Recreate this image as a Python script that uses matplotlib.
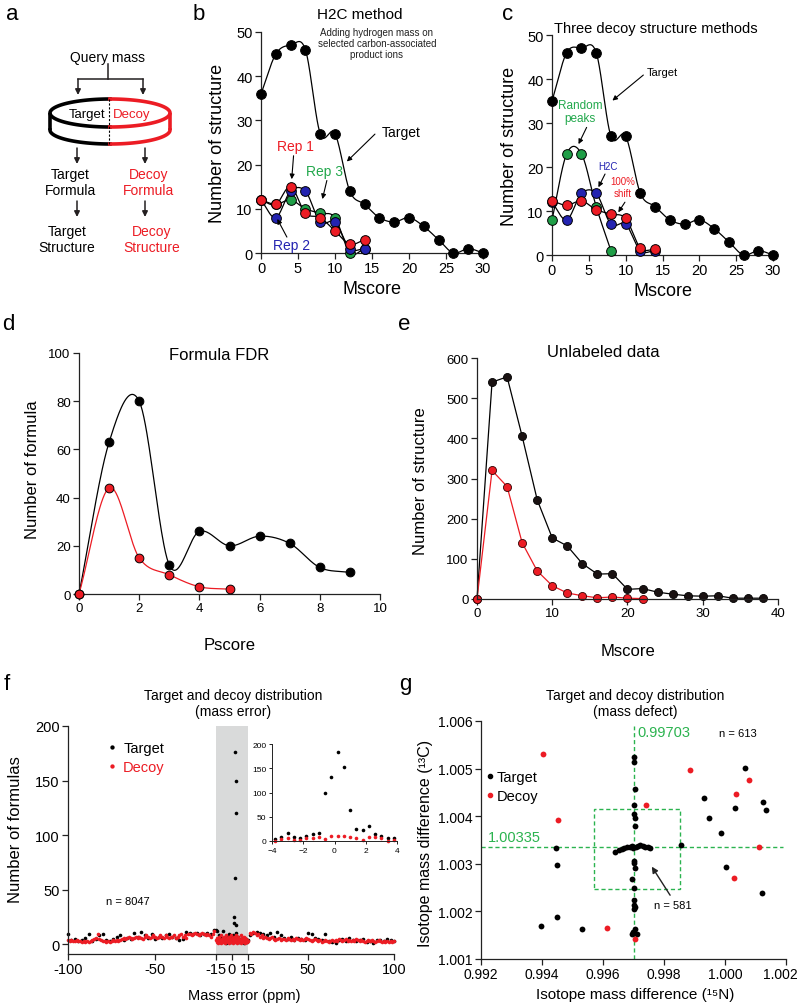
import numpy as np
import matplotlib
matplotlib.use('Agg')
import matplotlib.pyplot as plt
from matplotlib.patches import Rectangle
from matplotlib.ticker import FormatStrFormatter
from matplotlib.lines import Line2D
from matplotlib.transforms import ScaledTranslation

plt.rcParams['font.family'] = ['Liberation Sans', 'DejaVu Sans']

RED = '#ec1c24'
BLUE = '#2323b0'
GREEN = '#1f9e47'
TGREEN = '#22a84c'
DGREEN = '#2bb34f'

# ---- panel b : H2C method
mscore = [0, 2, 4, 6, 8, 10, 12, 14, 16, 18, 20, 22, 24, 26, 28, 30]
target_b = [36, 45, 47, 46, 27, 27, 14, 11, 8, 7, 8, 6, 3, 0, 1, 0]
rep_x = [0, 2, 4, 6, 8, 10, 12, 14]
rep1 = [12, 11, 15, 9, 8, 5, 2, 3]
rep2 = [12, 8, 14, 14, 7, 7, 1, 1]
rep3 = [12, 11, 12, 10, 9, 8, 0, 1]

# ---- panel c : three decoy methods
target_c = [35, 46, 47, 46, 27, 27, 14, 11, 8, 7, 8, 6, 3, 0, 1, 0]
random_x = [0, 2, 4, 6, 8]
random_c = [8, 23, 23, 11, 1]
h2c_c = [12, 8, 14, 14, 7, 7, 1, 1]
shift_c = [12.3, 11.3, 12.3, 10.3, 9.3, 8.3, 1.6, 1.3]

# ---- panel d : formula FDR
pscore = [0, 1, 2, 3, 4, 5, 6, 7, 8, 9]
target_d = [0, 63, 80, 12, 26, 20, 24, 21, 11, 9]
decoy_d = [0, 44, 15, 8, 3, 2]

# ---- panel e : unlabeled data
mscore_e = [0, 2, 4, 6, 8, 10, 12, 14, 16, 18, 20, 22, 24, 26, 28, 30, 32, 34, 36, 38]
target_e = [0, 540, 553, 405, 247, 152, 132, 88, 62, 63, 24, 26, 17, 12, 8, 7, 8, 2, 2, 2]
decoy_e = [0, 320, 280, 140, 70, 33, 15, 8, 3, 5, 2, 1]

# ---- panel f : mass error distribution
decoy_left = [4, 3, 4, 3, 3, 4, 3, 3, 2, 3,
              2, 3, 2, 3, 4, 5, 6, 9, 5, 4,
              3, 3, 2, 3, 2, 3, 4, 3, 4, 3,
              4, 5, 6, 5, 6, 7, 6, 5, 6, 7,
              6, 7, 6, 5, 7, 8, 7, 6, 7, 8,
              7, 6, 7, 8, 7, 6, 8, 7, 6, 7,
              7, 8, 6, 7, 8, 9, 7, 8, 6, 9,
              9, 8, 9, 10, 9, 8, 9, 10, 9, 8,
              9, 8, 7, 9, 12]
decoy_right = [10, 9, 11, 10, 8, 9, 7, 8, 6, 7,
               6, 5, 6, 7, 5, 4, 5, 6, 4, 5,
               5, 4, 6, 5, 4, 5, 4, 6, 5, 4,
               5, 4, 5, 6, 5, 4, 3, 4, 5, 4,
               3, 4, 2, 3, 4, 3, 2, 3, 4, 3,
               4, 3, 5, 4, 3, 4, 5, 3, 4, 3,
               4, 3, 5, 4, 3, 4, 3, 2, 3, 4,
               3, 4, 3, 2, 3, 4, 3, 2, 3, 2,
               3, 2, 3, 2, 3]
target_left = [9, 4, 5, 3, 4, 6, 9, 3, 5, 8, 9, 4, 3, 5, 7, 8, 4, 6, 5, 10,
               7, 11, 8, 6, 9, 5, 7, 6, 8, 9, 7, 6, 4, 5, 11, 10, 9, 10, 8, 9,
               10, 9, 13]
target_right = [8, 10, 11, 10, 9, 8, 10, 7, 11, 8, 6, 5, 7, 4, 6, 5, 4, 10, 9, 6,
                5, 4, 9, 3, 2, 1, 4, 5, 3, 6, 4, 3, 4, 5, 2, 3, 1, 4, 4, 3,
                5, 4, 3]
decoy_band = [4, 2, 6, 1, 5, 3, 7, 2, 4, 8, 1, 5, 3, 6, 2, 7, 4, 1, 5, 8,
              3, 6, 2, 4, 7, 1, 5, 3, 8, 2, 6, 4, 1, 7, 3, 5, 2, 8, 4, 6,
              1, 3, 7, 5, 2, 4, 8, 1, 6, 3, 5, 2, 7, 4, 1, 6, 3, 5, 2, 4, 3]
target_band = [13, 12, 4, 8, 2, 6, 3, 12, 5, 1, 7, 3, 9, 4, 2, 6, 8, 5, 4, 10,
               3, 7, 2, 5, 4, 6, 1, 3, 5, 2, 4]
peak_x = [2.9, 3.3, 3.5, 2.5, 1.7, 2.0, 3.8]
peak_y = [176, 150, 120, 61, 25, 19, 18]
inset_x = [-3.8, -3.4, -3.0, -2.6, -2.2, -1.8, -1.4, -1.0, -0.6, -0.2,
           0.2, 0.6, 1.0, 1.4, 1.8, 2.2, 2.6, 3.0, 3.4, 3.8]
inset_target = [5, 8, 17, 8, 7, 11, 14, 16, 99, 132, 184, 152, 64, 24, 22, 31, 15, 10, 7, 7]
inset_decoy = [1, 4, 6, 3, 3, 6, 6, 8, 4, 10, 10, 10, 8, 6, 3, 8, 9, 6, 1, 3]

# ---- panel g : mass defect
g_target_x = [0.99397, 0.99448, 0.99530, 0.99445, 0.99448, 0.99930, 0.99949, 0.99988,
              1.00064, 1.00032, 1.00002, 1.00124, 1.00133, 1.00121, 0.99856,
              0.99703, 0.99703, 0.99705, 0.99701, 0.99703, 0.99706, 0.99704, 0.99703,
              0.99703, 0.99704, 0.99694, 0.99703, 0.99702, 0.99703, 0.99706, 0.99702,
              0.99705, 0.99700, 0.99694, 0.99710,
              0.99640, 0.99651, 0.99662, 0.99669, 0.99678, 0.99687, 0.99695, 0.99700,
              0.99708, 0.99714, 0.99722, 0.99731, 0.99739, 0.99747, 0.99755]
g_target_y = [1.00169, 1.00189, 1.00162, 1.00334, 1.00297, 1.00439, 1.00397, 1.00365,
              1.00501, 1.00417, 1.00294, 1.00429, 1.00413, 1.00238, 1.00340,
              1.00525, 1.00514, 1.00457, 1.00424, 1.00404, 1.00396, 1.00380, 1.00306,
              1.00301, 1.00292, 1.00268, 1.00250, 1.00224, 1.00213, 1.00210, 1.00205,
              1.00163, 1.00156, 1.00152, 1.00152,
              1.00324, 1.00329, 1.00331, 1.00334, 1.00336, 1.00335, 1.00338, 1.00333,
              1.00336, 1.00338, 1.00340, 1.00338, 1.00336, 1.00335, 1.00334]
g_decoy_x = [0.99403, 0.99453, 0.99612, 0.99705, 0.99741, 0.99884, 1.00035, 1.00079, 1.00028, 1.00113]
g_decoy_y = [1.00531, 1.00392, 1.00166, 1.00142, 1.00423, 1.00498, 1.00447, 1.00477, 1.00271, 1.00335]

W, H = 800, 1004
fig = plt.figure(figsize=(W / 100, H / 100), dpi=100)


def box(l, t, r, b):
    return fig.add_axes([l / W, 1 - b / H, (r - l) / W, (b - t) / H])


def style(ax, fs=10.5):
    for s in ['top', 'right']:
        ax.spines[s].set_visible(False)
    for s in ['left', 'bottom']:
        ax.spines[s].set_linewidth(0.9)
        ax.spines[s].set_color('#222222')
    ax.tick_params(direction='out', length=4, width=0.9, labelsize=fs, pad=2, color='#222222')
    ax.set_facecolor('none')


def labels(ax, bx, xl, yl, xc, yc, fs=12):
    l, t, r, b = bx
    ax.set_xlabel(xl, fontsize=fs, va='center')
    ax.xaxis.set_label_coords((xc[0] - l) / (r - l), (b - xc[1]) / (b - t))
    ax.set_ylabel(yl, fontsize=fs, va='center')
    ax.yaxis.set_label_coords((yc[0] - l) / (r - l), (b - yc[1]) / (b - t))


def smooth(x, y, n=40):
    # piecewise cubic Hermite with central-difference tangents
    x = np.asarray(x, float)
    y = np.asarray(y, float)
    m = np.gradient(y, x)
    t = np.linspace(0, 1, n)
    h00 = 2 * t**3 - 3 * t**2 + 1
    h10 = t**3 - 2 * t**2 + t
    h01 = -2 * t**3 + 3 * t**2
    h11 = t**3 - t**2
    xs, ys = [], []
    for i in range(len(x) - 1):
        h = x[i + 1] - x[i]
        xs.append(x[i] + t * h)
        ys.append(h00 * y[i] + h10 * h * m[i] + h01 * y[i + 1] + h11 * h * m[i + 1])
    return np.concatenate(xs), np.concatenate(ys)


def curve(ax, x, y, fc, ms=7, lw=0.9):
    sx, sy = smooth(x, y)
    ax.plot(sx, sy, color='black', lw=lw, clip_on=False, zorder=2)
    ax.plot(x, y, 'o', ms=ms, mfc=fc, mec='black', mew=0.7, clip_on=False, zorder=3)


def note(ax, s, xy, xytext, color, fs, arrow_from=None):
    ax.text(xytext[0], xytext[1], s, color=color, fontsize=fs, ha='center', va='center')
    if arrow_from is not None:
        ax.annotate('', xy=xy, xytext=arrow_from,
                    arrowprops=dict(arrowstyle='-|>', color='black', lw=0.8,
                                    mutation_scale=7, shrinkA=0, shrinkB=0))


# ---------------- panel b
bb = (261, 33, 483, 254)
ax = box(*bb)
style(ax)
curve(ax, mscore, target_b, 'black')
curve(ax, rep_x, rep3, GREEN)
curve(ax, rep_x, rep2, BLUE)
curve(ax, rep_x, rep1, RED)
ax.set_xlim(0, 30)
ax.set_ylim(0, 50)
ax.set_xticks(range(0, 31, 5))
ax.set_yticks(range(0, 51, 10))
labels(ax, bb, 'Mscore', 'Number of structure', (372, 289), (218, 143), fs=13)
note(ax, 'Target', (11.6, 20.7), (18.9, 27.4), 'black', 10, (15.4, 26.9))
note(ax, 'Rep 1', (4.15, 16.7), (4.6, 24.3), RED, 10, (4.4, 22.0))
note(ax, 'Rep 3', (8.3, 12.2), (8.6, 18.6), TGREEN, 10, (8.9, 16.4))
note(ax, 'Rep 2', (2.2, 7.7), (4.1, 1.8), BLUE, 10, (3.5, 3.6))

# ---------------- panel c
cb = (552, 36, 773, 256)
ax = box(*cb)
style(ax)
curve(ax, mscore, target_c, 'black')
curve(ax, random_x, random_c, GREEN)
curve(ax, rep_x, h2c_c, BLUE)
curve(ax, rep_x, shift_c, RED)
ax.set_xlim(0, 30)
ax.set_ylim(0, 50)
ax.set_xticks(range(0, 31, 5))
ax.set_yticks(range(0, 51, 10))
labels(ax, cb, 'Mscore', 'Number of structure', (663, 292), (510, 146), fs=13)
note(ax, 'Target', (8.2, 35.1), (15.0, 41.7), 'black', 8, (12.4, 40.9))
note(ax, 'Random\npeaks', (3.6, 25.2), (3.8, 32.6), TGREEN, 8.5, (4.7, 29.0))
note(ax, 'H2C', (6.3, 15.4), (7.6, 20.3), BLUE, 7, (7.2, 18.4))
note(ax, '100%\nshift', (9.0, 9.7), (9.6, 15.4), RED, 7, (9.9, 12.0))

# ---------------- panel d
db = (79, 354, 380, 595)
ax = box(*db)
style(ax, fs=9.5)
curve(ax, pscore, target_d, 'black', ms=6.3)
sx, sy = smooth(pscore[:len(decoy_d)], decoy_d)
ax.plot(sx, sy, color=RED, lw=0.9, clip_on=False, zorder=2)
ax.plot(pscore[:len(decoy_d)], decoy_d, 'o', ms=6.3, mfc=RED, mec='black', mew=0.7,
        clip_on=False, zorder=3)
ax.set_xlim(0, 10)
ax.set_ylim(0, 100)
ax.set_xticks(range(0, 11, 2))
ax.set_yticks(range(0, 101, 20))
labels(ax, db, 'Pscore', 'Number of formula', (230, 646), (33, 470))

# ---------------- panel e
eb = (477, 359, 778, 600)
ax = box(*eb)
style(ax, fs=9.5)
ax.plot(mscore_e, target_e, '-o', color='black', lw=0.9, ms=5.8, mfc='#1a1212',
        mec='black', mew=0.6, clip_on=False)
ax.plot(mscore_e[:len(decoy_e)], decoy_e, '-o', color=RED, lw=0.9, ms=5.8, mfc=RED,
        mec='#330000', mew=0.6, clip_on=False)
ax.set_xlim(0, 40)
ax.set_ylim(0, 600)
ax.set_xticks(range(0, 41, 10))
ax.set_yticks(range(0, 601, 100))
labels(ax, eb, 'Mscore', 'Number of structure', (628, 651), (421, 481))

# ---------------- panel f
fb = (68, 727, 394, 955)
ax = box(*fb)
style(ax, fs=10.5)
brk = [-100, -15, 15, 100]
pos = [0, 148, 180, 326]
ax.set_xscale('function', functions=(lambda v: np.interp(v, brk, pos),
                                     lambda p: np.interp(p, pos, brk)))
ax.axvspan(-15, 15, color='#d9dada', lw=0, zorder=0)
dot = dict(ls='none', marker='o', ms=2.6, mew=0, clip_on=False)
ax.plot(np.arange(-100, -15, 2), target_left, color='black', label='Target', **dot)
ax.plot(np.arange(16, 101, 2), target_right, color='black', **dot)
ax.plot(np.arange(-15, 16, 1), target_band, color='black', **dot)
ax.plot(peak_x, peak_y, color='black', **dot)
ax.plot(np.arange(-100, -15), decoy_left, color=RED, label='Decoy', **dot)
ax.plot(np.arange(16, 101), decoy_right, color=RED, **dot)
ax.plot(np.arange(-15, 15.5, 0.5), decoy_band, color=RED, **dot)
ax.set_xlim(-100, 100)
ax.set_ylim(-9, 200)
ax.set_xticks([-100, -50, -15, 0, 15, 50, 100])
ax.set_xticklabels(['-100', '-50', '-15', '0', '15', '50', '100'])
ax.minorticks_off()
ax.set_yticks(range(0, 201, 50))
labels(ax, fb, 'Mass error (ppm)', 'Number of formulas', (244, 996), (16, 830), fs=12)
ax.xaxis.label.set_fontsize(10.5)
leg = ax.legend(loc='upper left', bbox_to_anchor=(0.08, 0.99), frameon=False, fontsize=10.5,
                handlelength=0.6, handletextpad=0.5, markerscale=1.2, labelspacing=0.3)
leg.get_texts()[1].set_color(RED)
ax.text(-78, 40, 'n = 8047', fontsize=8, ha='left', va='center')

axi = box(272, 745, 397, 842)
style(axi, fs=6)
axi.tick_params(length=2.5, width=0.7, pad=1.5)
for s in ['left', 'bottom']:
    axi.spines[s].set_linewidth(0.7)
axi.plot(inset_x, inset_target, color='black', **dot)
axi.plot(inset_x, inset_decoy, color=RED, **dot)
axi.set_xlim(-4, 4)
axi.set_ylim(0, 200)
axi.set_xticks([-4, -2, 0, 2, 4])
axi.set_yticks(range(0, 201, 50))

# ---------------- panel g
gb = (481, 722, 786, 960)
ax = box(*gb)
style(ax, fs=10)
ax.axhline(1.00335, xmax=0.99, color=DGREEN, lw=1, ls=(0, (3, 2)), zorder=1)
ax.axvline(0.99703, ymax=0.98, color=DGREEN, lw=1, ls=(0, (3, 2)), zorder=1)
ax.add_patch(Rectangle((0.99569, 1.00248), 0.00284, 0.00168, fill=False, ec=DGREEN,
                       lw=1, ls=(0, (3, 2)), zorder=1))
ax.plot(g_target_x, g_target_y, ls='none', marker='o', ms=4.2, mew=0, color='black', zorder=3)
ax.plot(g_decoy_x, g_decoy_y, ls='none', marker='o', ms=4.2, mew=0, color=RED, zorder=3)
ax.set_xlim(0.992, 1.002)
ax.set_ylim(1.001, 1.006)
ax.set_xticks(np.linspace(0.992, 1.002, 6))
ax.set_yticks(np.linspace(1.001, 1.006, 6))
ax.xaxis.set_major_formatter(FormatStrFormatter('%.3f'))
ax.yaxis.set_major_formatter(FormatStrFormatter('%.3f'))
last = ax.get_xticklabels()[-1]
last.set_transform(last.get_transform() + ScaledTranslation(-0.06, 0, fig.dpi_scale_trans))
labels(ax, gb, 'Isotope mass difference (\u00b9\u2075N)', 'Isotope mass difference (\u00b9\u00b3C)',
       (635, 995), (426, 843), fs=11.5)
ax.xaxis.label.set_fontsize(11)
ax.text(0.99714, 1.00577, '0.99703', color=DGREEN, fontsize=10.5, ha='left', va='center')
ax.text(0.99221, 1.00357, '1.00335', color=DGREEN, fontsize=10.5, ha='left', va='center')
ax.text(0.99981, 1.00575, 'n = 613', fontsize=8, ha='left', va='center')
ax.text(0.99768, 1.00213, 'n = 581', fontsize=8, ha='left', va='center')
ax.annotate('', xy=(0.99760, 1.00294), xytext=(0.99820, 1.00234),
            arrowprops=dict(arrowstyle='-|>', color='#222222', lw=1, mutation_scale=9,
                            shrinkA=0, shrinkB=0))
hd = [Line2D([], [], ls='none', marker='o', ms=3, color='black', label='Target'),
      Line2D([], [], ls='none', marker='o', ms=3, color=RED, label='Decoy')]
ax.legend(handles=hd, loc='upper left', bbox_to_anchor=(0.0, 0.82), frameon=False,
          fontsize=10.5, handlelength=0.4, handletextpad=0.3, labelspacing=0.35,
          borderaxespad=0)

# ---------------- overlay: diagram, titles, panel letters
ov = fig.add_axes([0, 0, 1, 1], zorder=10)
ov.set_xlim(0, W)
ov.set_ylim(H, 0)
ov.axis('off')


def arrow(x0, y0, x1, y1):
    ov.annotate('', xy=(x1, y1), xytext=(x0, y0),
                arrowprops=dict(arrowstyle='-|>', color='#231f20', lw=1.1,
                                mutation_scale=8, shrinkA=0, shrinkB=0))


for s, x, y in [('a', 12, 15), ('b', 199, 14), ('c', 508, 14), ('d', 8, 325),
                ('e', 404, 325), ('f', 7, 685), ('g', 405, 685)]:
    ov.text(x, y, s, fontsize=16, ha='center', va='center')

ov.text(360, 15, 'H2C method', fontsize=11, ha='center', va='center')
ov.text(377, 44, 'Adding hydrogen mass on\nselected carbon-associated\nproduct ions',
        fontsize=7, ha='center', va='center', linespacing=1.1, color='#222222')
ov.text(656, 29, 'Three decoy structure methods', fontsize=10.5, ha='center', va='center')
ov.text(219, 356, 'Formula FDR', fontsize=12, ha='center', va='center')
ov.text(603, 353, 'Unlabeled data', fontsize=12, ha='center', va='center')
ov.text(233, 704, 'Target and decoy distribution\n(mass error)', fontsize=10,
        ha='center', va='center', linespacing=1.2)
ov.text(635, 704, 'Target and decoy distribution\n(mass defect)', fontsize=10,
        ha='center', va='center', linespacing=1.2)

# panel a diagram
ov.text(108, 58, 'Query mass', fontsize=10, ha='center', va='center')
ov.plot([108, 108], [65, 80], color='#231f20', lw=1.1)
ov.plot([78, 143], [80, 80], color='#231f20', lw=1.1)
arrow(78, 80, 78, 96)
arrow(143, 80, 143, 96)
cx, cy, ea, eb_, depth = 110, 114, 60, 14, 17
tl = np.linspace(np.pi / 2, 3 * np.pi / 2, 80)
tr = np.linspace(-np.pi / 2, np.pi / 2, 80)
ov.plot(cx + ea * np.cos(tl), cy + eb_ * np.sin(tl), color='black', lw=2.6)
ov.plot(cx + ea * np.cos(tr), cy + eb_ * np.sin(tr), color=RED, lw=2.6)
bl = np.linspace(np.pi / 2, np.pi, 60)
br = np.linspace(0, np.pi / 2, 60)
ov.plot(cx + ea * np.cos(bl), cy + depth + eb_ * np.sin(bl), color='black', lw=2.6)
ov.plot(cx + ea * np.cos(br), cy + depth + eb_ * np.sin(br), color=RED, lw=2.6)
ov.plot([cx - ea, cx - ea], [cy, cy + depth], color='black', lw=2.6, solid_capstyle='butt')
ov.plot([cx + ea, cx + ea], [cy, cy + depth], color=RED, lw=2.6, solid_capstyle='butt')
ov.plot([cx - 1, cx - 1], [cy - eb_, cy + depth + eb_], color='black', lw=0.8, ls=(0, (2, 1.5)))
ov.text(87, 115, 'Target', fontsize=9.5, ha='center', va='center')
ov.text(132, 115, 'Decoy', fontsize=9.5, ha='center', va='center', color=RED)
arrow(77, 149, 77, 165)
arrow(145, 149, 145, 165)
ov.text(70, 183, 'Target\nFormula', fontsize=10, ha='center', va='center', linespacing=1.25)
ov.text(149, 183, 'Decoy\nFormula', fontsize=10, ha='center', va='center', linespacing=1.25,
        color=RED)
arrow(77, 202, 77, 218)
arrow(145, 202, 145, 218)
ov.text(67, 240, 'Target\nStructure', fontsize=10, ha='center', va='center', linespacing=1.25)
ov.text(152, 240, 'Decoy\nStructure', fontsize=10, ha='center', va='center', linespacing=1.25,
        color=RED)

fig.savefig('out.png', dpi=100)
